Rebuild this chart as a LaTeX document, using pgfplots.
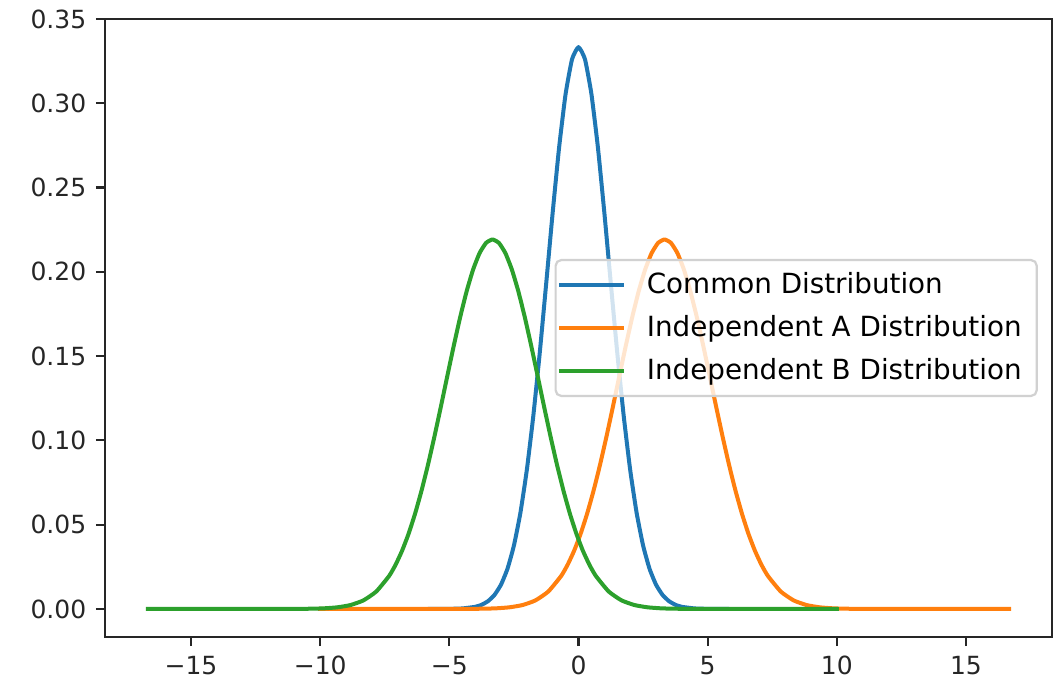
\documentclass[border=0pt]{standalone}
\usepackage{fontspec}
\setmainfont{DejaVu Sans}
\usepackage{pgfplots}
\pgfplotsset{compat=1.18}
\definecolor{tabblue}{HTML}{1F77B4}
\definecolor{taborange}{HTML}{FF7F0E}
\definecolor{tabgreen}{HTML}{2CA02C}
\begin{document}
\begin{tikzpicture}
\begin{axis}[name=ax, scale only axis, width=340.92pt, height=222.48pt,
  xmin=-18.33, xmax=18.33, ymin=-0.01667, ymax=0.35,
  xtick={-15,-10,-5,0,5,10,15}, xticklabels={−15,−10,−5,0,5,10,15},
  ytick={0,0.05,0.10,0.15,0.20,0.25,0.30,0.35},
  yticklabels={0.00,0.05,0.10,0.15,0.20,0.25,0.30,0.35},
  tick pos=left, tick align=outside, major tick length=3.24pt,
  tick style={line width=0.8pt, color=black!85},
  axis line style={line width=1pt, black!85},
  tick label style={font=\fontsize{9}{10}\selectfont, text=black!85},
  every axis plot/.append style={line width=1.44pt, line join=round, line cap=rect, smooth, tension=0.3},
  legend cell align=left,
  legend image code/.code={\draw[#1,line width=1.44pt,overlay] (-4.3pt,0pt) -- (17.7pt,0pt); \path (0pt,0pt) -- (17.7pt,0pt);},
  legend style={at={(0.985,0.5)}, anchor=east, draw=black!18, line width=0.8pt,
    rounded corners=2pt, fill=white, fill opacity=0.8, text opacity=1, draw opacity=1,
    font=\fontsize{10}{12}\selectfont, inner xsep=5.4pt, inner ysep=2.2pt, row sep=2pt,
    nodes={inner xsep=0pt, inner ysep=2.2pt},
    /tikz/every odd column/.append style={column sep=8.3pt}},
]
\addplot[tabblue] coordinates {
(-5.75,0) (-5,0.00005) (-4.5,0.00028) (-4,0.00125) (-3.75,0.00246) (-3.5,0.00464)
(-3.25,0.00835) (-3,0.01441) (-2.75,0.0238) (-2.5,0.03762) (-2.25,0.05695) (-2,0.08253)
(-1.75,0.11447) (-1.5,0.15199) (-1.25,0.19322) (-1,0.23512) (-0.75,0.27392) (-0.5,0.30548)
(-0.25,0.32614) (0,0.33333)
(0.25,0.32614) (0.5,0.30548) (0.75,0.27392) (1,0.23512) (1.25,0.19322) (1.5,0.15199)
(1.75,0.11447) (2,0.08253) (2.25,0.05695) (2.5,0.03762) (2.75,0.0238) (3,0.01441)
(3.25,0.00835) (3.5,0.00464) (3.75,0.00246) (4,0.00125) (4.5,0.00028) (5,0.00005) (5.75,0)
};
\addlegendentry{Common Distribution}
\addplot[taborange] coordinates {
(-10,0) (-6,0) (-4.67,0.00001) (-3.67,0.00013) (-3.17,0.00037) (-2.67,0.00096)
(-2.17,0.00228) (-1.67,0.00503) (-1.17,0.01031) (-0.67,0.01959) (-0.42,0.02624)
(-0.17,0.0345) (0.08,0.0445) (0.33,0.05634) (0.58,0.07) (0.83,0.08533) (1.08,0.10209)
(1.33,0.11984) (1.58,0.13806) (1.83,0.15607) (2.08,0.17314) (2.33,0.18849) (2.58,0.20135)
(2.83,0.21108) (3.08,0.21714) (3.33,0.2192) (3.58,0.21714) (3.83,0.21108) (4.08,0.20135)
(4.33,0.18849) (4.58,0.17314) (4.83,0.15607) (5.08,0.13806) (5.33,0.11984) (5.58,0.10209)
(5.83,0.08533) (6.08,0.07) (6.33,0.05634) (6.58,0.0445) (6.83,0.0345) (7.08,0.02624)
(7.33,0.01959) (7.83,0.01031) (8.33,0.00503) (8.83,0.00228) (9.33,0.00096) (9.83,0.00037)
(10.33,0.00013) (11.33,0.00001) (16.67,0)
};
\addlegendentry{Independent A Distribution}
\addplot[tabgreen] coordinates {
(-16.67,0) (-11.33,0.00001) (-10.33,0.00013) (-9.83,0.00037) (-9.33,0.00096) (-8.83,0.00228)
(-8.33,0.00503) (-7.83,0.01031) (-7.33,0.01959) (-7.08,0.02624) (-6.83,0.0345) (-6.58,0.0445)
(-6.33,0.05634) (-6.08,0.07) (-5.83,0.08533) (-5.58,0.10209) (-5.33,0.11984) (-5.08,0.13806)
(-4.83,0.15607) (-4.58,0.17314) (-4.33,0.18849) (-4.08,0.20135) (-3.83,0.21108) (-3.58,0.21714)
(-3.33,0.2192) (-3.08,0.21714) (-2.83,0.21108) (-2.58,0.20135) (-2.33,0.18849) (-2.08,0.17314)
(-1.83,0.15607) (-1.58,0.13806) (-1.33,0.11984) (-1.08,0.10209) (-0.83,0.08533) (-0.58,0.07)
(-0.33,0.05634) (-0.08,0.0445) (0.17,0.0345) (0.42,0.02624) (0.67,0.01959) (1.17,0.01031)
(1.67,0.00503) (2.17,0.00228) (2.67,0.00096) (3.17,0.00037) (3.67,0.00013) (4.67,0.00001)
(6,0) (10,0)
};
\addlegendentry{Independent B Distribution}
\end{axis}
\path ([xshift=-37.8pt,yshift=-17.64pt]ax.south west) rectangle ([xshift=2.52pt,yshift=6.84pt]ax.north east);
\end{tikzpicture}
\end{document}
